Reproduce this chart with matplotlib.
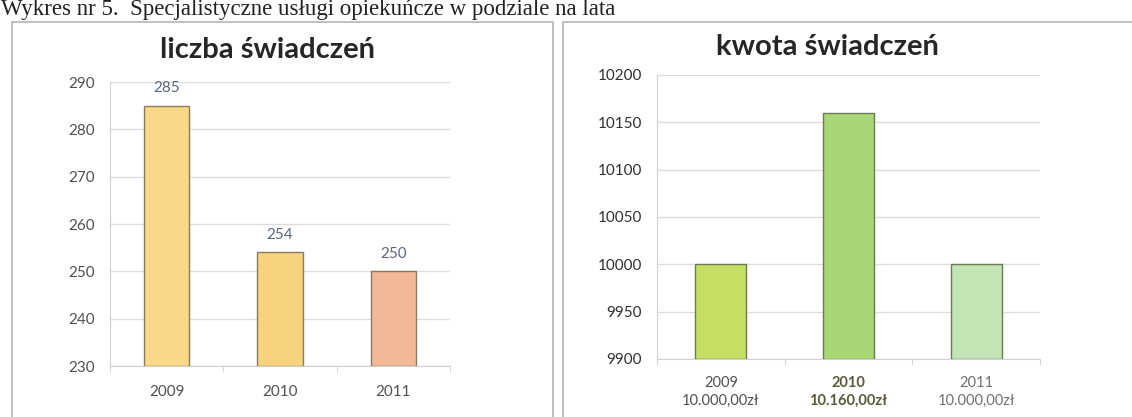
import numpy as np
import matplotlib.pyplot as plt
import matplotlib.patches as mpatches

# data
years = ["2009", "2010", "2011"]
liczba = [285, 254, 250]
kwota = [10000, 10160, 10000]
kwota_lbl = ["10.000,00zł", "10.160,00zł", "10.000,00zł"]

col_l = ["#f9d888", "#f7d37e", "#f3b996"]
col_r = ["#c6df62", "#a9d775", "#c3e4b4"]

W, H = 1132, 417
fig = plt.figure(figsize=(W / 100, H / 100), dpi=100, facecolor='w')

def px(x0, y0, x1, y1):
    # pixel box -> figure fraction [l, b, w, h]
    return [x0 / W, 1 - y1 / H, (x1 - x0) / W, (y1 - y0) / H]

# scanned page caption at the top
fig.text(0.001, 1 - 15 / H, "Wykres nr 5.  Specjalistyczne usługi opiekuńcze w podziale na lata",
         family='Liberation Serif', fontsize=16.5, color='#222222', va='baseline', ha='left')

# panel frames
for x0, x1 in [(12, 553), (563, 1140)]:
    r = mpatches.Rectangle((x0 / W, -0.05), (x1 - x0) / W, 1 - 22 / H + 0.05,
                           transform=fig.transFigure, fill=False,
                           edgecolor='#b4b4b4', lw=1.2)
    fig.patches.append(r)

def style_ax(ax):
    ax.set_facecolor('w')
    for s in ['top', 'right']:
        ax.spines[s].set_visible(False)
    ax.spines['left'].set_color('#d0d0d0')
    ax.spines['bottom'].set_color('#d0d0d0')
    ax.yaxis.grid(True, color='#dcdcdc', lw=1.0)
    ax.set_axisbelow(True)
    ax.tick_params(axis='y', length=0, pad=11)
    ax.set_xticks([-0.5, 0.5, 1.5, 2.5], minor=True)
    ax.tick_params(axis='x', which='minor', length=4, color='#d0d0d0')

# left: liczba świadczeń
ax1 = fig.add_axes(px(110, 82, 450, 366))
style_ax(ax1)
x = np.arange(len(years))
ax1.bar(x, [v - 230 for v in liczba], bottom=230, width=0.4, color=col_l,
        edgecolor='#8a7a60', lw=1.0)
ax1.set_xlim(-0.5, 2.5)
ax1.set_ylim(230, 290)
ax1.set_yticks(np.arange(230, 291, 10))
ax1.set_xticks(x)
ax1.set_xticklabels(years)
ax1.tick_params(axis='x', which='major', length=0, pad=14)
for lab in ax1.get_yticklabels() + ax1.get_xticklabels():
    lab.set_family('Lato')
    lab.set_fontsize(11)
    lab.set_color('#505050')
for xi, v in zip(x, liczba):
    ax1.text(xi, v + 2.2, str(v), ha='center', va='bottom', family='Lato',
             fontsize=11, color='#5a6678')
fig.text(268 / W, 1 - 50 / H, "liczba świadczeń", ha='center', va='center',
         family='Lato', weight='bold', fontsize=21, color='#262626')

# right: kwota świadczeń
ax2 = fig.add_axes(px(657, 75, 1040, 359))
style_ax(ax2)
ax2.bar(x, [v - 9900 for v in kwota], bottom=9900, width=0.4, color=col_r,
        edgecolor='#6a7a55', lw=1.0)
ax2.set_xlim(-0.5, 2.5)
ax2.set_ylim(9900, 10200)
ax2.set_yticks(np.arange(9900, 10201, 50))
ax2.set_xticks(x)
ax2.set_xticklabels([y + "\n" + k for y, k in zip(years, kwota_lbl)])
ax2.tick_params(axis='x', which='major', length=0, pad=12)
for lab in ax2.get_yticklabels():
    lab.set_family('Lato')
    lab.set_fontsize(11)
    lab.set_color('#303030')
for i, lab in enumerate(ax2.get_xticklabels()):
    lab.set_family('Lato')
    lab.set_fontsize(10.5)
    lab.set_linespacing(1.4)
    lab.set_color(['#505050', '#5a5a3a', '#707070'][i])
    if i == 1:
        lab.set_weight('bold')
fig.text(827 / W, 1 - 47 / H, "kwota świadczeń", ha='center', va='center',
         family='Lato', weight='bold', fontsize=21, color='#262626')

fig.savefig("out.png", dpi=100, facecolor='w')
